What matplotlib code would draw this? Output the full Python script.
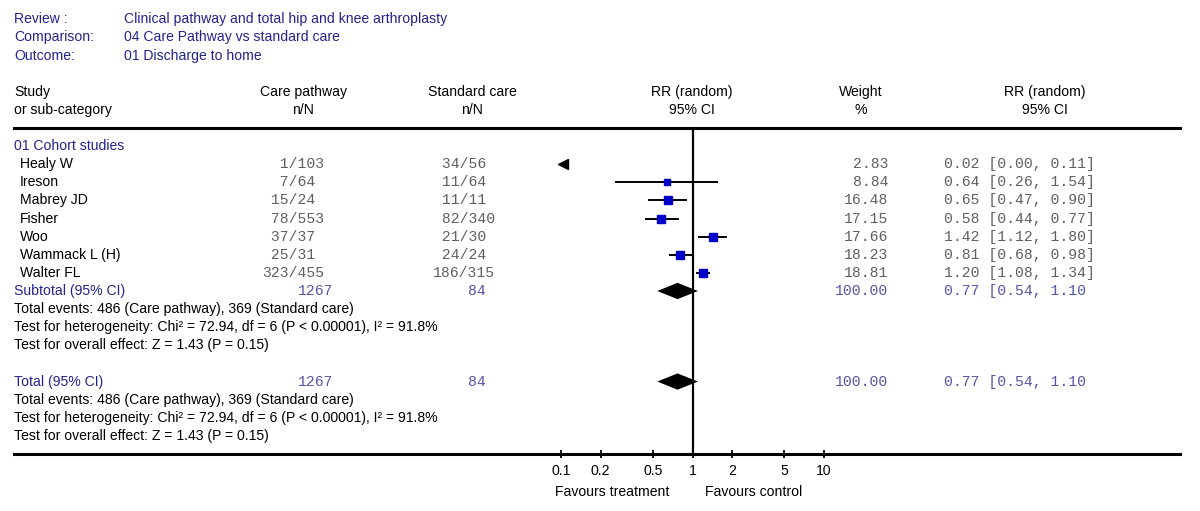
import numpy as np
import matplotlib
matplotlib.use('Agg')
import matplotlib.pyplot as plt
import matplotlib.transforms as mtransforms
from matplotlib.lines import Line2D

plt.rcParams.update({
    'font.family': 'Liberation Sans',
    'font.size': 10.1,
})

NAVY = "#23238f"
MONO_GREY = "#606060"
MONO_BLUE = "#5555a5"
SQUARE = "#0000c8"

# ---- data ----
studies = ["Healy W", "Ireson", "Mabrey JD", "Fisher", "Woo", "Wammack L (H)", "Walter FL"]
care_n = [1, 7, 15, 78, 37, 25, 323]
care_N = [103, 64, 24, 553, 37, 31, 455]
std_n = [34, 11, 11, 82, 21, 24, 186]
std_N = [56, 64, 11, 340, 30, 24, 315]
weights = [2.83, 8.84, 16.48, 17.15, 17.66, 18.23, 18.81]
rr = [0.02, 0.64, 0.65, 0.58, 1.42, 0.81, 1.20]
rr_lo = [0.00, 0.26, 0.47, 0.44, 1.12, 0.68, 1.08]
rr_hi = [0.11, 1.54, 0.90, 0.77, 1.80, 0.98, 1.34]

pooled_rr = 0.77
pooled_lo = 0.54
pooled_hi = 1.10
pooled_care_N = "1267"
pooled_std_N = "84"

ticks = [0.1, 0.2, 0.5, 1, 2, 5, 10]
tick_labels = ["0.1", "0.2", "0.5", "1", "2", "5", "10"]

summary_lines = [
    "Total events: 486 (Care pathway), 369 (Standard care)",
    "Test for heterogeneity: Chi\u00b2 = 72.94, df = 6 (P < 0.00001), I\u00b2 = 91.8%",
    "Test for overall effect: Z = 1.43 (P = 0.15)",
]

W, H = 1200, 511
fig = plt.figure(figsize=(W / 100, H / 100), dpi=100)

# forest plot axes (log RR), rows run downward
ax = fig.add_axes([561 / W, (H - 454) / H, (824 - 561) / W, (454 - 128) / H])
ax.set_xscale('log')
ax.set_xlim(0.1, 10)
ax.set_ylim(17, -1)
for s in ax.spines.values():
    s.set_visible(False)
ax.set_yticks([])
ax.set_xticks(ticks)
ax.set_xticklabels(tick_labels)
ax.xaxis.set_minor_locator(matplotlib.ticker.NullLocator())
ax.tick_params(axis='x', direction='inout', length=6, width=1.3, pad=4, labelsize=10.1)
ax.patch.set_alpha(0)

ax.axvline(1, color='black', lw=1.6)

for i, (m, lo, hi, w) in enumerate(zip(rr, rr_lo, rr_hi, weights)):
    row = i + 1
    if m < 0.1:
        # point and most of the CI are off the scale: draw arrow at the edge
        ax.plot([0.1, hi], [row, row], color='black', lw=1.4, clip_on=False)
        ax.plot([0.104], [row], marker='<', color='black', ms=6.5, clip_on=False)
        continue
    ax.plot([lo, hi], [row, row], color='black', lw=1.4)
    ax.plot([m], [row], marker='s', color=SQUARE, ms=3.8 + w * 0.11, mec=SQUARE)

for row in (8, 13):
    ax.fill([pooled_lo, pooled_rr, pooled_hi, pooled_rr],
            [row, row - 0.45, row, row + 0.45], color='black', lw=0)

# table text, x in figure pixels, y in rows
trans = mtransforms.blended_transform_factory(fig.transFigure, ax.transData)


def put(x, row, s, **kw):
    ax.text(x / W, row, s, transform=trans, va='center', clip_on=False, **kw)


mono = dict(family='Liberation Mono', fontsize=10.6)

put(14, -7, "Review :", color=NAVY)
put(14, -6, "Comparison:", color=NAVY)
put(14, -5, "Outcome:", color=NAVY)
put(124, -7, "Clinical pathway and total hip and knee arthroplasty", color=NAVY)
put(124, -6, "04 Care Pathway vs standard care", color=NAVY)
put(124, -5, "01 Discharge to home", color=NAVY)

put(14, -3, "Study")
put(14, -2, "or sub-category")
for x, top, bot in [(303, "Care pathway", "n/N"), (472, "Standard care", "n/N"),
                    (692, "RR (random)", "95% CI"), (861, "Weight", "%"),
                    (1045, "RR (random)", "95% CI")]:
    put(x, -3, top, ha='center')
    put(x, -2, bot, ha='center')

put(14, 0, "01 Cohort studies", color=NAVY)
for i, name in enumerate(studies):
    row = i + 1
    put(20, row, name)
    put(262, row, f"{care_n[i]:>3}/{care_N[i]:<3}", color=MONO_GREY, **mono)
    put(433, row, f"{std_n[i]:>3}/{std_N[i]:<3}", color=MONO_GREY, **mono)
    put(888, row, f"{weights[i]:.2f}", ha='right', color=MONO_GREY, **mono)
    put(944, row, f"{rr[i]:.2f} [{rr_lo[i]:.2f}, {rr_hi[i]:.2f}]", color=MONO_GREY, **mono)

for row, label in [(8, "Subtotal (95% CI)"), (13, "Total (95% CI)")]:
    put(14, row, label, color=NAVY)
    put(298, row, pooled_care_N, color=MONO_BLUE, **mono)
    put(468, row, pooled_std_N, color=MONO_BLUE, **mono)
    put(888, row, "100.00", ha='right', color=MONO_BLUE, **mono)
    put(944, row, f"{pooled_rr:.2f} [{pooled_lo:.2f}, {pooled_hi:.2f}", color=MONO_BLUE, **mono)
    for k, line in enumerate(summary_lines):
        put(14, row + 1 + k, line)

put(612, 19.1, "Favours treatment", ha='center')
put(754, 19.1, "Favours control", ha='center')

# full-width rules at top and bottom of the table
for yp in (128, 454):
    fig.add_artist(Line2D([14 / W, 1180 / W], [(H - yp) / H] * 2,
                          transform=fig.transFigure, color='black', lw=2.2))

fig.savefig("out.png", dpi=100)
